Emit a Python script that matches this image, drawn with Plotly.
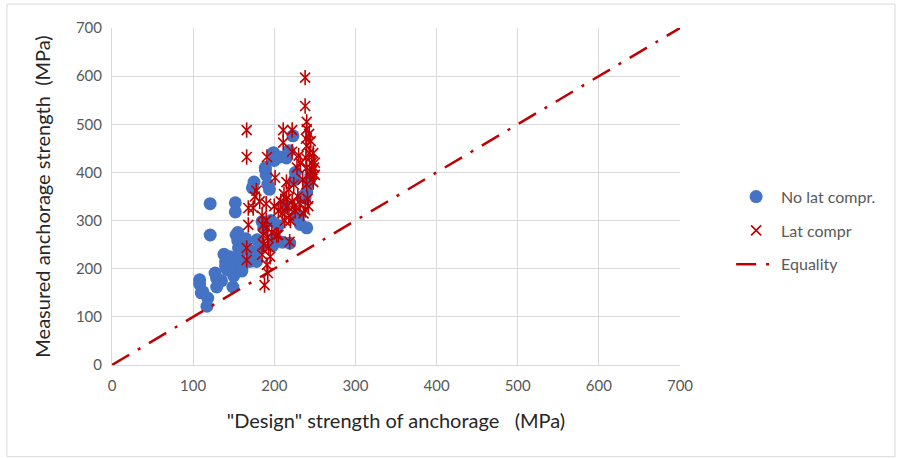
import plotly.graph_objects as go

# No lateral compression (blue circles)
no_lat_x = [108, 108, 110, 112, 118, 117, 121, 121, 127, 129, 129, 135, 138, 140, 140, 142, 145, 147, 148, 149,
            150, 152, 152, 153, 155, 155, 156, 157, 158, 160, 160, 162, 165, 168, 170, 173, 175, 176, 178, 179,
            182, 185, 187, 189, 189, 190, 192, 194, 196, 198, 199, 200, 202, 205, 207, 210, 212, 215, 218, 219,
            223, 225, 226, 228, 230, 232, 235, 238, 240, 240, 242, 245]
no_lat_y = [177, 168, 150, 152, 139, 122, 270, 335, 191, 180, 162, 175, 230, 215, 205, 198, 225, 212, 195, 162,
            185, 337, 318, 270, 275, 258, 243, 230, 215, 200, 195, 250, 262, 240, 215, 368, 380, 235, 215, 260,
            245, 298, 285, 405, 410, 395, 375, 365, 300, 248, 441, 425, 262, 290, 432, 255, 330, 430, 445, 253,
            476, 385, 400, 312, 300, 292, 350, 347, 285, 360, 378, 395]

# Lateral compression (red stars)
lat_x = [166, 166, 168, 174, 168, 166, 166, 176, 178, 182, 185, 186, 186, 187, 185, 188, 191, 190, 190, 191,
         192, 193, 191, 192, 195, 197, 200, 201, 203, 205, 205, 208, 210, 211, 211, 212, 213, 215, 215, 216,
         218, 218, 220, 222, 222, 219, 222, 224, 225, 226, 228, 229, 230, 232, 232, 235, 236, 238, 238, 238,
         239, 239, 240, 240, 240, 240, 240, 241, 242, 243, 243, 244, 245, 246, 247, 248, 248, 249, 250, 250]
lat_y = [488, 432, 326, 326, 291, 243, 218, 350, 362, 340, 310, 290, 270, 250, 229, 166, 432, 335, 300, 285,
         265, 245, 208, 191, 225, 275, 330, 389, 270, 270, 320, 340, 315, 488, 462, 355, 300, 380, 345, 330,
         365, 310, 300, 488, 443, 256, 340, 375, 330, 320, 410, 350, 435, 420, 335, 385, 315, 597, 538, 322,
         470, 430, 505, 490, 455, 410, 375, 345, 330, 480, 440, 395, 465, 420, 405, 380, 440, 410, 420, 395]

# Equality line
eq_x = [0, 700]
eq_y = [0, 700]

tick_vals = [0, 100, 200, 300, 400, 500, 600, 700]

RED = "#C00000"
BLUE = "#4472C4"
FONT = "Lato, Carlito, Calibri, sans-serif"

fig = go.Figure()
fig.add_trace(go.Scatter(
    x=no_lat_x, y=no_lat_y, mode="markers", name="No lat compr.",
    legendgroup="a",
    marker=dict(symbol="circle", size=13, color=BLUE, line=dict(width=0)),
))
fig.add_trace(go.Scatter(
    x=lat_x, y=lat_y, mode="markers", name="Lat compr",
    legendgroup="b",
    marker=dict(symbol="x-thin-open", size=10, color=RED, line=dict(width=1.6, color=RED)),
))
fig.add_trace(go.Scatter(
    x=lat_x, y=lat_y, mode="markers", name="Lat compr", showlegend=False,
    legendgroup="b",
    marker=dict(symbol="line-ns-open", size=11, color=RED, line=dict(width=1.6, color=RED)),
))
fig.add_trace(go.Scatter(
    x=eq_x, y=eq_y, mode="lines", name="Equality",
    legendgroup="c",
    line=dict(color=RED, width=2.5, dash="20px,10px,3px,10px"),
))

axis_common = dict(
    range=[0, 700], tickvals=tick_vals, showgrid=True, gridcolor="#D9D9D9", gridwidth=1,
    zeroline=False, showline=True, linecolor="#D9D9D9", linewidth=1, mirror=False,
    ticks="", tickfont=dict(family=FONT, size=15, color="#595959"),
)

fig.update_layout(
    width=903, height=459,
    paper_bgcolor="white", plot_bgcolor="white",
    margin=dict(l=112, r=223, t=28, b=94),
    font=dict(family=FONT, color="#404040"),
    xaxis=dict(**axis_common, ticklabelstandoff=7,
               title=dict(text='"Design" strength of anchorage\u00a0\u00a0\u00a0(MPa)',
                          font=dict(family=FONT, size=20, color="#262626"), standoff=20)),
    yaxis=dict(**axis_common, ticklabelstandoff=6,
               title=dict(text="Measured anchorage strength\u00a0\u00a0(MPa)",
                          font=dict(family=FONT, size=20, color="#262626"), standoff=19)),
    legend=dict(x=1.09, y=0.55, xanchor="left", yanchor="top",
                font=dict(family=FONT, size=16, color="#595959"),
                tracegroupgap=10, bgcolor="rgba(0,0,0,0)", itemwidth=40),
    showlegend=True,
    shapes=[dict(type="rect", xref="paper", yref="paper",
                 x0=-0.185, x1=1.3785, y0=-0.272, y1=1.071,
                 line=dict(color="#D9D9D9", width=1), fillcolor="rgba(0,0,0,0)", layer="below")],
)

fig.write_html("out.html", config={"displayModeBar": False},
               post_script="document.body.style.margin='0px';")
